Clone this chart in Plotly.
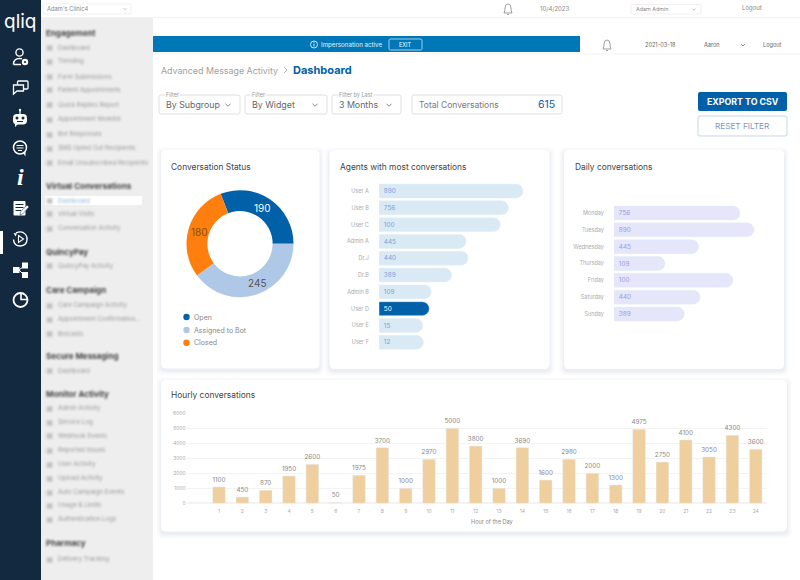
import json
import re
import plotly.graph_objects as go

W = 800
H = 580
FONT = "Inter"
BLUE = "#0060A8"

status_labels = ["Open", "Assigned to Bot", "Closed"]
status_values = [190, 245, 180]
status_colors = ["#0060A8", "#AFC8E8", "#FF7F0E"]
status_text_colors = ["#FFFFFF", "#555555", "#8A4B10"]

agent_names = ["User A", "User B", "User C", "Admin A", "Dr.J", "Dr.B", "Admin B", "User D", "User E", "User F"]
agent_labels = ["890", "756", "100", "445", "440", "389", "109", "50", "15", "12"]
# bar lengths do not follow the printed numbers in the picture
agent_lengths = [890, 801, 750, 538, 550, 449, 323, 311, 270, 274]

day_names = ["Monday", "Tuesday", "Wednesday", "Thursday", "Friday", "Saturday", "Sunday"]
day_labels = ["756", "890", "445", "109", "100", "440", "389"]
day_lengths = [801, 890, 538, 324, 756, 547, 447]

hours = list(range(1, 25))
hour_labels = ["1100", "450", "870", "1950", "2600", "50", "1975", "3700", "1000", "2970", "5000", "3800",
               "1000", "3690", "1600", "2980", "2000", "1300", "4975", "2750", "4100", "3050", "4300", "3600"]
hour_heights = [1090, 420, 870, 1820, 2600, 60, 1870, 3710, 1000, 2930, 5000, 3820,
                1000, 3710, 1550, 2930, 2000, 1220, 4930, 2750, 4220, 3090, 4530, 3600]

# sidebar: text, y, kind (h = heading, i = item, a = active item)
menu_text = ["Engagement", "Dashboard", "Trending", "Form Submissions", "Patient Appointments",
             "Quick Replies Report", "Appointment Worklist", "Bot Responses", "SMS Opted Out Recipients",
             "Email Unsubscribed Recipients", "Virtual Conversations", "Dashboard", "Virtual Visits",
             "Conversation Activity", "QuincyPay", "QuincyPay Activity", "Care Campaign",
             "Care Campaign Activity", "Appointment Confirmation...", "Botcasts", "Secure Messaging",
             "Dashboard", "Monitor Activity", "Admin Activity", "Service Log", "Webhook Events",
             "Reported Issues", "User Activity", "Upload Activity", "Auto Campaign Events",
             "Usage & Limits", "Authentication Logs", "Pharmacy", "Delivery Tracking"]
menu_y = [33, 47, 61, 76, 90, 105, 119, 134, 148, 163, 186, 200, 214, 228, 252, 266, 290, 305, 319, 333,
          356, 370, 394, 408, 422, 436, 450, 464, 478, 492, 505, 519, 543, 559]
menu_kind = ["h", "i", "i", "i", "i", "i", "i", "i", "i", "i", "h", "a", "i", "i", "h", "i", "h", "i", "i", "i",
             "h", "i", "h", "i", "i", "i", "i", "i", "i", "i", "i", "i", "h", "i"]

shapes = []
notes = []
blurred = []


def fx(x):
    return x / W


def fy(y):
    return 1 - y / H


def to_paper(d):
    # pixel path -> paper path, numbers alternate x, y
    n = [0]

    def swap(m):
        v = float(m.group())
        n[0] += 1
        return f"{fx(v):.5f}" if n[0] % 2 else f"{fy(v):.5f}"

    return re.sub(r"-?\d+\.?\d*", swap, d)


def path(d, fill=None, line=None, lw=1):
    shapes.append(dict(type="path", xref="paper", yref="paper", path=to_paper(d),
                       fillcolor=fill or "rgba(0,0,0,0)",
                       line=dict(color=line or "rgba(0,0,0,0)", width=lw if line else 0),
                       layer="below"))


def box(x0, y0, x1, y1, fill=None, line=None, lw=1, r=0):
    d = (f"M {x0 + r} {y0} L {x1 - r} {y0} Q {x1} {y0} {x1} {y0 + r} L {x1} {y1 - r} Q {x1} {y1} {x1 - r} {y1} "
         f"L {x0 + r} {y1} Q {x0} {y1} {x0} {y1 - r} L {x0} {y0 + r} Q {x0} {y0} {x0 + r} {y0} Z")
    path(d, fill, line, lw)


def dot(cx, cy, r, fill=None, line=None, lw=1):
    shapes.append(dict(type="circle", xref="paper", yref="paper",
                       x0=fx(cx - r), x1=fx(cx + r), y0=fy(cy + r), y1=fy(cy - r),
                       fillcolor=fill or "rgba(0,0,0,0)",
                       line=dict(color=line or "rgba(0,0,0,0)", width=lw if line else 0),
                       layer="below"))


def label(x, y, text, size=8, color="#666666", anchor="left", bg=None, blur=False, family=FONT):
    if blur:
        blurred.append(len(notes))
    if anchor == "left":
        x -= 0.8
    notes.append(dict(xref="paper", yref="paper", x=fx(x), y=fy(y), text=text, showarrow=False,
                      xanchor=anchor, yanchor="middle", font=dict(family=family, size=size, color=color),
                      bgcolor=bg, borderpad=0))


def bell(cx, cy, color="#888888"):
    path(f"M {cx - 4} {cy + 4} Q {cx - 3} {cy + 2} {cx - 3} {cy - 1} Q {cx - 3} {cy - 5} {cx} {cy - 5} "
         f"Q {cx + 3} {cy - 5} {cx + 3} {cy - 1} Q {cx + 3} {cy + 2} {cx + 4} {cy + 4} Z", line=color, lw=0.8)
    path(f"M {cx - 1} {cy + 5.5} L {cx + 1} {cy + 5.5}", line=color, lw=0.8)


def chevron(cx, cy, color="#666666", s=2.5):
    path(f"M {cx - s} {cy - s / 2} L {cx} {cy + s / 2} L {cx + s} {cy - s / 2}", line=color, lw=0.8)


def card(x0, y0, x1, y1):
    for i, a in ((5, 0.012), (4, 0.015), (3, 0.02), (2, 0.025), (1, 0.03)):
        box(x0 - i, y0 - i + 2, x1 + i, y1 + i + 2, fill=f"rgba(60,90,130,{a})", r=6)
    box(x0, y0, x1, y1, fill="#FFFFFF", r=5)


# page background pieces
box(41, 18, 153, 580, fill="#EEEEEE")
box(0, 0, 41, 580, fill="#13293F")
box(0, 231, 3, 254, fill="#FFFFFF")
box(41, 17, 800, 18, fill="#F3F3F3")
box(153, 53.5, 800, 54.5, fill="#F3F3F3")

# top strip
box(43, 4, 131, 14, fill="#FFFFFF", line="#E6E6E6", lw=0.6, r=1)
label(47, 9, "Adam's Clinic4", 5.8, "#888888")
chevron(125, 9, "#AAAAAA", 1.5)
bell(508, 9)
label(555, 8, "10/4/2023", 6, "#888888", "center")
box(631, 4.5, 701, 14, fill="#FFFFFF", line="#E6E6E6", lw=0.6, r=1)
label(636, 9.5, "Adam Admin", 5.4, "#888888")
chevron(694, 9.5, "#AAAAAA", 1.5)
label(752, 8, "Logout", 6, "#888888", "center")

box(153, 36, 580, 52, fill="#0077B6")
dot(314, 44.5, 3.5, line="#FFFFFF", lw=0.8)
path("M 314 43.5 L 314 46.5 M 314 42 L 314 42.8", line="#FFFFFF", lw=0.8)
label(321, 44.5, "Impersonation active", 6.2, "#E8F2F8")
box(389, 39, 422, 50, line="#CFE4F1", lw=0.8, r=1.5)
label(405.5, 44.5, "EXIT", 5.5, "#FFFFFF", "center")
bell(607, 45)
label(660, 45.5, "2021-03-18", 5.6, "#666666", "center")
label(712, 45.5, "Aaron", 5.6, "#666666", "center")
chevron(743, 45, "#555555", 1.8)
label(772, 45.5, "Logout", 5.6, "#666666", "center")

# heading and filters
label(161, 70, "Advanced Message Activity", 8.9, "#A0A0A0")
path("M 284 67 L 287 70 L 284 73", line="#A0A0A0", lw=0.8)
label(293, 70, "<b>Dashboard</b>", 11, BLUE)

filter_boxes = [(159, 240), (245, 327), (332, 401)]
filter_caps = ["Filter", "Filter", "Filter by Last"]
filter_vals = ["By Subgroup", "By Widget", "3 Months"]
for (x0, x1), cap, val in zip(filter_boxes, filter_caps, filter_vals):
    box(x0, 95, x1, 114, fill="#FFFFFF", line="#D8D8D8", lw=0.8, r=2)
    label(x0 + 7, 94.5, cap, 5.5, "#999999", bg="#FFFFFF")
    label(x0 + 7, 105, val, 8.8, "#666666")
    chevron(x1 - 12, 105, "#666666", 2.5)
box(412, 95, 562, 114, fill="#FFFFFF", line="#D8D8D8", lw=0.8, r=2)
label(419, 104.5, "Total Conversations", 8.5, "#777777")
label(556, 104.5, "615", 10.5, BLUE, "right")

box(698, 92, 787, 111, fill=BLUE, r=2)
label(742.5, 101.5, "<b>EXPORT TO CSV</b>", 8.8, "#FFFFFF", "center")
box(698, 116, 787, 136, fill="#FFFFFF", line="#BFD0E4", lw=0.9, r=2)
label(742.5, 126.5, "RESET FILTER", 8.2, "#7C96BC", "center")

# sidebar menu, blurred like the picture
box(45, 196, 142, 205, fill="#FFFFFF")
for t, y, k in zip(menu_text, menu_y, menu_kind):
    if k == "h":
        label(46, y, f"<b>{t}</b>", 8, "#444444", blur=True)
    else:
        c = "#8FB4DC" if k == "a" else "#999999"
        label(58, y, t, 6.2, c, blur=True)
        label(50, y, "▣", 8, "#BBBBBB", "center", blur=True, family="DejaVu Sans")

# nav icons
label(20, 21, "qliq", 19, "#FFFFFF", "center")
dot(19.5, 52.5, 3.6, line="#FFFFFF", lw=1.4)
path("M 13.5 64.5 Q 13.5 58.5 19.5 58.5 Q 21 58.5 22 59 M 13.5 64.5 L 21 64.5", line="#FFFFFF", lw=1.4)
dot(25, 62, 3.2, fill="#FFFFFF")
dot(25, 62, 1.1, fill="#13293F")
box(17.5, 81, 28, 89, line="#FFFFFF", lw=1.3, r=1)
path("M 14.5 85 L 23.5 85 L 23.5 91 L 17 91 L 13.5 94 L 13.5 85 Z", fill="#13293F", line="#FFFFFF", lw=1.3)
path("M 20 110.5 L 20 114", line="#FFFFFF", lw=1.2)
dot(20, 110, 1.2, fill="#FFFFFF")
box(13, 114, 27, 124.5, fill="#FFFFFF", r=4)
dot(17, 118, 1.5, fill="#13293F")
dot(23, 118, 1.5, fill="#13293F")
path("M 17 121.5 L 23 121.5", line="#13293F", lw=1)
path("M 15 124 L 15 127 L 18 124 Z", fill="#FFFFFF")
dot(20, 147.5, 6.5, line="#FFFFFF", lw=1.5)
path("M 16.5 145.5 L 23.5 145.5 M 16.5 148 L 23.5 148 M 18 150.5 L 22 150.5", line="#FFFFFF", lw=1)
path("M 23 153 L 25.5 156.5 L 25.5 151.5", fill="#FFFFFF")
label(20, 177, "<b><i>i</i></b>", 24, "#FFFFFF", "center", family="Liberation Serif")
box(13.5, 201, 25.5, 215.5, fill="#FFFFFF", r=1)
path("M 15.5 204.5 L 23.5 204.5 M 15.5 207.5 L 23.5 207.5 M 15.5 210.5 L 21 210.5", line="#13293F", lw=1)
path("M 27 205 L 29 207 L 22.5 214 L 20 215 L 20.5 212 Z", fill="#FFFFFF", line="#13293F", lw=0.5)
path("M 16 233 Q 20 231 23 232.5 Q 27.5 235 27 240 Q 26.5 245.5 20.5 246 Q 14 246 13.5 239.5", line="#FFFFFF", lw=1.4)
path("M 13.5 233 L 17 233.5 L 15.5 236.5 Z", fill="#FFFFFF")
path("M 18.5 235.5 L 23.5 239 L 18.5 242.5 Z", line="#FFFFFF", lw=1.1)
path("M 19 270 L 24 266 M 19 270 L 24 275", line="#FFFFFF", lw=1)
box(13, 267, 19.5, 273, fill="#FFFFFF")
box(22, 262.5, 28, 268.5, fill="#FFFFFF")
box(22, 272, 28, 278, fill="#FFFFFF")
dot(20.5, 300, 7, line="#FFFFFF", lw=1.8)
path("M 21 293.5 L 21 299.5 L 27.5 299.5", line="#FFFFFF", lw=1.6)

# cards
card(161, 150, 319.5, 368.5)
card(329.5, 150, 549.5, 369)
card(564, 150, 784, 369)
card(161, 380, 787, 531.5)
label(171, 167, "Conversation Status", 8.4, "#444444")
label(340, 167, "Agents with most conversations", 8.4, "#444444")
label(575, 167, "Daily conversations", 8.4, "#444444")
label(171, 395, "Hourly conversations", 8.4, "#444444")

for y, name, color in zip([317, 330, 342.7], status_labels, status_colors):
    dot(186.5, y, 3.2, fill=color)
    label(194, y, name, 7, "#888888")

fig = go.Figure()

fig.add_trace(go.Pie(
    labels=status_labels, values=status_values, hole=0.61, sort=False, direction="clockwise", rotation=-21.2,
    marker=dict(colors=status_colors), textinfo="none",
    showlegend=False, hoverinfo="label+value",
    domain=dict(x=[fx(186.5), fx(293.5)], y=[fy(297.2), fy(190.2)]),
))
# slice numbers placed by hand, plotly's own inside placement lands elsewhere
for pos, v, c in zip([(262, 208), (257, 283), (199, 232)], status_values, status_text_colors):
    label(pos[0], pos[1], str(v), 10, c, "center")
label(492, 522, "Hour of the Day", 5.6, "#888888", "center")

agent_colors = ["#0060A8" if n == "User D" else "#D9EAF5" for n in agent_names]
agent_text = ["#FFFFFF" if n == "User D" else "#7BA0D8" for n in agent_names]
fig.add_trace(go.Bar(
    x=agent_lengths, y=agent_names, orientation="h", text=["\u00a0" + t for t in agent_labels], textposition="inside",
    insidetextanchor="start", constraintext="none", marker=dict(color=agent_colors, cornerradius=7),
    textfont=dict(family=FONT, size=10.5, color=agent_text), xaxis="x", yaxis="y", showlegend=False,
))
fig.add_trace(go.Bar(
    x=day_lengths, y=day_names, orientation="h", text=["\u00a0" + t for t in day_labels], textposition="inside",
    insidetextanchor="start", constraintext="none", marker=dict(color="#E5E6FA", cornerradius=7),
    textfont=dict(family=FONT, size=10.5, color="#9A9BE8"), xaxis="x2", yaxis="y2", showlegend=False,
))
fig.add_trace(go.Bar(
    x=hours, y=hour_heights, width=0.54, text=hour_labels, textposition="outside", constraintext="none",
    cliponaxis=False, marker=dict(color="#EFCF9E"), textfont=dict(family=FONT, size=6.3, color="#888888"),
    xaxis="x3", yaxis="y3", showlegend=False,
))

tick_font = dict(family=FONT, size=5.5, color="#AAAAAA")
hidden_x = dict(showgrid=False, zeroline=False, showticklabels=False, showline=False, fixedrange=True)
cat_y = dict(autorange="reversed", showgrid=False, zeroline=False, showline=False, tickfont=tick_font,
             ticks="outside", ticklen=8, tickcolor="rgba(0,0,0,0)", fixedrange=True)

fig.update_layout(
    width=W, height=H, margin=dict(l=0, r=0, t=0, b=0, pad=0, autoexpand=False), autosize=False,
    paper_bgcolor="#FFFFFF", plot_bgcolor="rgba(0,0,0,0)",
    font=dict(family=FONT), bargap=0.17,
    xaxis=dict(domain=[fx(379), fx(540)], range=[0, 995], anchor="y", **hidden_x),
    yaxis=dict(domain=[fy(350.7), fy(182.6)], anchor="x", **cat_y),
    xaxis2=dict(domain=[fx(614), fx(775)], range=[0, 1023], anchor="y2", **hidden_x),
    yaxis2=dict(domain=[fy(322.4), fy(204.6)], anchor="x2", **cat_y),
    xaxis3=dict(domain=[fx(186.7), fx(766.7)], range=[-0.385, 24.47], anchor="y3", tickvals=hours, showgrid=False,
                zeroline=False, showline=False, tickfont=dict(family=FONT, size=5, color="#AAAAAA"),
                ticks="outside", ticklen=3, tickcolor="rgba(0,0,0,0)", fixedrange=True),
    yaxis3=dict(domain=[fy(503.3), fy(413.3)], range=[0, 6000], anchor="x3", dtick=1000, gridcolor="#F3F3F3",
                gridwidth=1, zeroline=True, zerolinecolor="#F3F3F3", showline=False, fixedrange=True,
                tickfont=dict(family=FONT, size=5, color="#AAAAAA")),
    shapes=shapes, annotations=notes,
)

post = ("document.body.style.margin='0';document.body.style.overflow='hidden';"
        "var ids=" + json.dumps(blurred) + ";"
        "document.querySelectorAll('.annotation').forEach(function(a){"
        "if(ids.indexOf(+a.getAttribute('data-index'))>=0){a.style.filter='blur(1px)';}});")
fig.write_html("out.html", config={"displayModeBar": False}, post_script=post)
